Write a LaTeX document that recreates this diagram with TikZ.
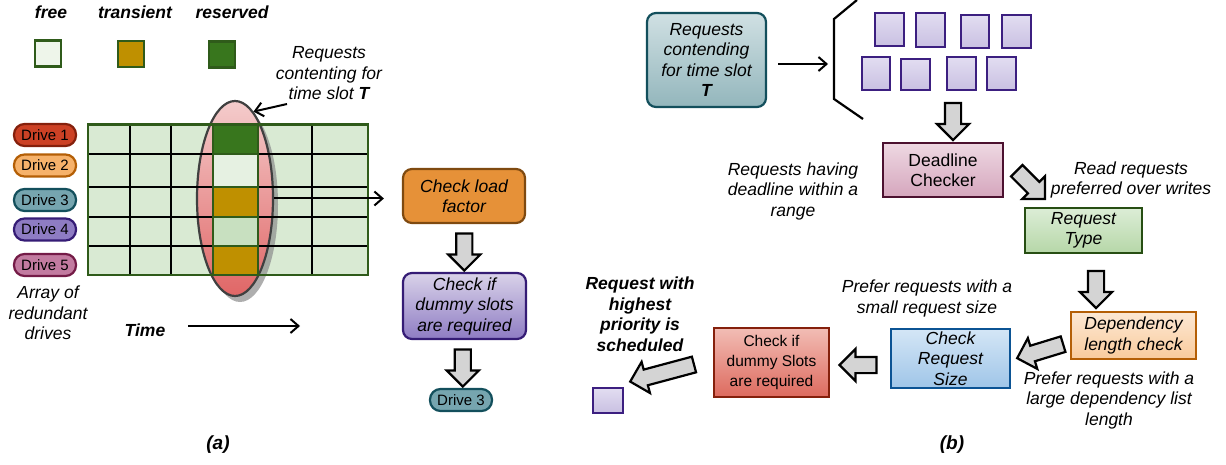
\documentclass[tikz,border=0pt]{standalone}
\usepackage{fontspec}
\setmainfont{Liberation Sans}
\usetikzlibrary{arrows.meta,calc,positioning,shapes.geometric,shapes.arrows,shadows}

\definecolor{gridfill}{HTML}{D9EAD3}
\definecolor{gridline}{HTML}{2F5B1A}
\definecolor{freecol}{HTML}{EEF5EA}
\definecolor{transcol}{HTML}{BF9000}
\definecolor{rescol}{HTML}{38761D}
\definecolor{cellpale}{HTML}{E6F1E2}
\definecolor{cellmid}{HTML}{C8E0C0}
\definecolor{elltop}{HTML}{F4CCCC}
\definecolor{ellbot}{HTML}{E06666}
\definecolor{drive1}{HTML}{CC4125}\definecolor{drive1ln}{HTML}{85200C}
\definecolor{drive2}{HTML}{F6B26B}\definecolor{drive2ln}{HTML}{B45F06}
\definecolor{drive3}{HTML}{76A5AF}\definecolor{drive3ln}{HTML}{134F5C}
\definecolor{drive4}{HTML}{8E7CC3}\definecolor{drive4ln}{HTML}{351C75}
\definecolor{drive5}{HTML}{C27BA0}\definecolor{drive5ln}{HTML}{741B47}
\definecolor{loadfill}{HTML}{E69138}
\definecolor{loadline}{HTML}{7F4A10}
\definecolor{dumtop}{HTML}{D9D2E9}
\definecolor{dumbot}{HTML}{8E7CC3}
\definecolor{tealtop}{HTML}{D0E0E3}
\definecolor{tealbot}{HTML}{93B6BC}
\definecolor{reqtop}{HTML}{E2DDF1}
\definecolor{reqbot}{HTML}{C9C0E2}
\definecolor{reqline}{HTML}{3C1F80}
\definecolor{pinktop}{HTML}{EED8E2}
\definecolor{pinkbot}{HTML}{D5A6BD}
\definecolor{pinkline}{HTML}{4C1130}
\definecolor{greentop}{HTML}{DCEDD6}
\definecolor{greenbot}{HTML}{B6D7A8}
\definecolor{greenline}{HTML}{274E13}
\definecolor{orgtop}{HTML}{FCE8D4}
\definecolor{orgbot}{HTML}{F9CB9C}
\definecolor{bluetop}{HTML}{D4E6F6}
\definecolor{bluebot}{HTML}{9FC5E8}
\definecolor{blueline}{HTML}{0B5394}
\definecolor{redtop}{HTML}{F2BDB5}
\definecolor{redbot}{HTML}{DD6A5E}
\definecolor{redline}{HTML}{85200C}
\definecolor{arrowgray}{HTML}{D4D4D4}

\tikzset{
  note/.style={font=\fontsize{17.5}{20.5}\selectfont\itshape,align=center,inner sep=0pt},
  head/.style={font=\fontsize{17.5}{20.5}\selectfont\bfseries\itshape,align=center,inner sep=0pt},
  drive/.style={draw,line width=2.2pt,rounded corners=10.5pt,minimum width=62pt,
                minimum height=22pt,inner sep=0pt,font=\fontsize{15}{18}\selectfont},
  box/.style={draw,line width=2.2pt,align=center,inner sep=0pt,
              font=\fontsize{17.5}{20.5}\selectfont\itshape},
  roundbox/.style={box,rounded corners=9pt},
  reqsq/.style={draw=reqline,line width=2.2pt,top color=reqtop,bottom color=reqbot,inner sep=0pt},
  legsq/.style={draw=gridline,line width=2.2pt,minimum size=26pt,inner sep=0pt},
  hollow/.style={single arrow,draw=black,line width=2.2pt,fill=arrowgray,inner sep=7pt,
                 single arrow head extend=8pt,single arrow tip angle=90,minimum height=37pt},
  conn/.style={-{Straight Barb[length=8pt,width=14pt]},line width=2pt}
}

\begin{document}
\begin{tikzpicture}[x=1pt,y=-1pt]
  \useasboundingbox (0,0) rectangle (1226,465);

  % (a) slot table for the drives
  \begin{scope}
    \node[head] (lfree) at (51,12) {free};
    \node[head] (ltrans) at (135,12) {transient};
    \node[head] (lres) at (232,12) {reserved};
    \node[legsq,fill=freecol] (sfree) at (48,53.5) {};
    \node[legsq,fill=transcol] (strans) at (131,54) {};
    \node[legsq,fill=rescol] (sres) at (222,54.5) {};

    \fill[gridfill] (88,124.5) rectangle (368,275);
    \node[ellipse,draw=black!75,line width=2.2pt,top color=elltop,bottom color=ellbot,
      minimum width=76pt,minimum height=195pt,
      drop shadow={shadow xshift=5pt,shadow yshift=-6pt,fill=black!45,opacity=.7}]
      (slotT) at (235,198.5) {};
    \foreach \x in {130,171,213,258,312}
      \draw[line width=2.2pt] (\x,124.5) -- (\x,275);
    \foreach \y in {154,187,217,246}
      \draw[line width=2.2pt] (88,\y) -- (368,\y);
    \draw[gridline,line width=2.2pt] (88,124.5) rectangle (368,275);
    \foreach \ya/\yb/\c in {124.5/154/rescol,154/187/cellpale,187/217/transcol,
      217/246/cellmid,246/275/transcol}
      \draw[gridline,line width=2.2pt,fill=\c] (213,\ya) rectangle (258,\yb);

    \foreach \i/\y in {1/135,2/165.5,3/200,4/229.5,5/265}
      \node[drive,fill=drive\i,draw=drive\i ln] (drv\i) at (45,\y) {Drive \i};
    \node[note] (array) at (48,313) {Array of\\redundant\\drives};

    \node[note] (contend) at (329,73.5) {Requests\\contenting for\\time slot \textbf{T}};
    \coordinate (contTail) at (287,104);
    \draw[conn] (contTail) -- (slotT.78);

    \node[head] (time) at (145,330) {Time};
    \coordinate (timeStart) at (188,326);
    \coordinate (timeEnd) at (300,326);
    \draw[conn] (timeStart) -- (timeEnd);

    \node[roundbox,fill=loadfill,draw=loadline,minimum width=122pt,minimum height=54pt]
      (load) at (464,196) {Check load\\factor};
    \node[roundbox,top color=dumtop,bottom color=dumbot,draw=drive4ln,
      minimum width=123pt,minimum height=66pt] (dummyA) at (464.5,306)
      {Check if\\dummy slots\\are required};
    \node[drive,fill=drive3,draw=drive3ln] (drvOut) at (461,400) {Drive 3};
    \draw[conn,shorten >=18pt] (slotT.east) -- (slotT.east -| load.west);
    \node[hollow,rotate=-90] (ha1) at ($(load.south)!.5!(dummyA.north)$) {};
    \node[hollow,rotate=-90] (ha2) at ($(dummyA.south)!.5!(drvOut.north)$) {};

    \node[head,font=\fontsize{19}{22}\selectfont\bfseries\itshape] (capA) at (218,445) {(a)};
  \end{scope}

  % (b) ordering of the contending requests
  \begin{scope}
    \node[roundbox,top color=tealtop,bottom color=tealbot,draw=drive3ln,
      minimum width=119pt,minimum height=94pt] (reqs) at (706.5,60)
      {Requests\\contending\\for time slot\\\textbf{T}};
    \draw[line width=2.2pt] (857,0) -- (834,19) -- (834,99) -- (863,119);
    \coordinate (brMid) at (834,64);
    \draw[conn,shorten <=11pt,shorten >=6pt] (reqs.east |- brMid) -- (brMid);

    \foreach \x/\y/\w/\h [count=\i] in {889.5/29.5/29/33,930.5/30/29/34,975/31.5/28/33,
      1016.5/31.5/29/33,876/73.5/28/33,915.5/74.5/29/31,961.5/73.5/29/33,1001.5/73.5/29/33}
      \node[reqsq,minimum width=\w pt,minimum height=\h pt] (sq\i) at (\x,\y) {};

    \node[box,font=\fontsize{17.5}{20.5}\selectfont,top color=pinktop,bottom color=pinkbot,
      draw=pinkline,minimum width=120pt,minimum height=54pt] (dead) at (943,170)
      {Deadline\\Checker};
    \node[hollow,rotate=-90] (hb1) at (953,117.5) {};
    \node[note] (deadNote) at (793,191) {Requests having\\deadline within a\\range};

    \node[hollow,rotate=-45,minimum height=40pt] (hb2) at (1028,182) {};
    \node[note] (readNote) at (1131,180) {Read requests\\preferred over writes};
    \node[box,top color=greentop,bottom color=greenbot,draw=greenline,
      minimum width=117pt,minimum height=45pt] (rtype) at (1083.5,230.5) {Request\\Type};

    \node[box,top color=orgtop,bottom color=orgbot,draw=drive2ln,
      minimum width=125pt,minimum height=47pt] (dep) at (1133.5,335.5)
      {Dependency\\length check};
    \node[hollow,rotate=-90] (hb3) at (1096,285.5) {};
    \node[note] (depNote) at (1109,400) {Prefer requests with a\\large dependency list\\length};

    \node[box,top color=bluetop,bottom color=bluebot,draw=blueline,
      minimum width=119pt,minimum height=59pt] (size) at (950.5,358.5)
      {Check\\Request\\Size};
    \node[hollow,rotate=197,minimum height=48pt] (hb4) at (1044,350) {};
    \node[note] (sizeNote) at (927,298.5) {Prefer requests with a\\small request size};

    \node[box,font=\fontsize{15.5}{20}\selectfont,top color=redtop,bottom color=redbot,
      draw=redline,minimum width=115pt,minimum height=69pt] (dummyB) at (771.5,362.5)
      {Check if\\dummy Slots\\are required};
    \node[hollow,rotate=180] (hb5) at (862,365) {};

    \node[hollow,rotate=195,minimum height=66pt] (hb6) at (666,372) {};
    \node[reqsq,minimum width=30pt,minimum height=25pt] (pick) at (608,400.5) {};
    \node[head] (pickNote) at (640,314) {Request with\\highest\\priority is\\scheduled};

    \node[head,font=\fontsize{19}{22}\selectfont\bfseries\itshape] (capB) at (952,445) {(b)};
  \end{scope}
\end{tikzpicture}
\end{document}
